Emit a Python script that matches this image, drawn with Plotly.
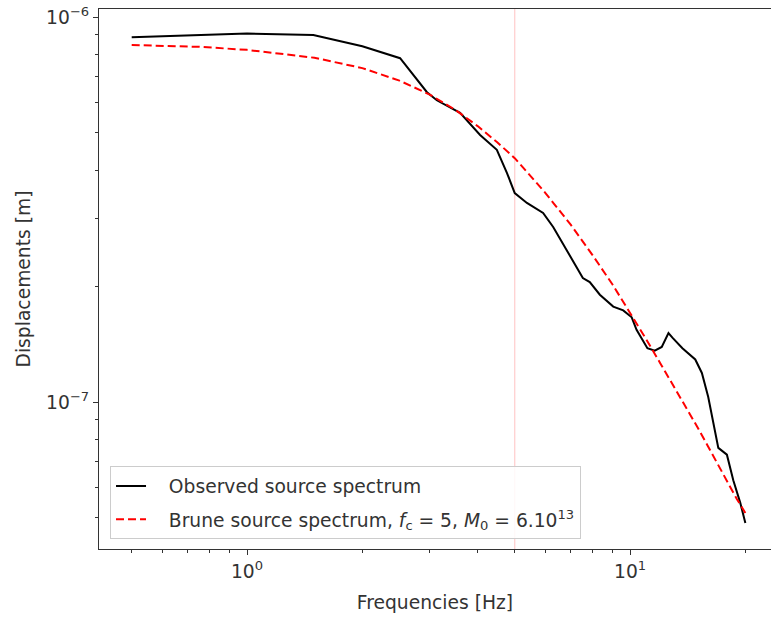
import plotly.graph_objects as go

# Observed source spectrum
obs_freq = [0.5, 1.0, 1.49, 2.0, 2.51, 2.95, 3.13, 3.6, 4.06, 4.49, 4.77, 5.0, 5.38, 5.93,
            6.3, 6.84, 7.53, 7.85, 8.34, 9.04, 9.6, 10.1, 10.4, 11.1, 11.6, 12.1, 12.6,
            12.9, 13.7, 14.8, 15.4, 16.0, 16.5, 17.0, 17.9, 18.6, 19.4, 20.0]
obs_disp = [8.87e-7, 9.06e-7, 8.98e-7, 8.4e-7, 7.82e-7, 6.38e-7, 6.08e-7, 5.64e-7, 4.94e-7,
            4.52e-7, 3.94e-7, 3.49e-7, 3.29e-7, 3.10e-7, 2.85e-7, 2.48e-7, 2.10e-7, 2.05e-7,
            1.90e-7, 1.77e-7, 1.73e-7, 1.66e-7, 1.54e-7, 1.38e-7, 1.36e-7, 1.39e-7, 1.51e-7,
            1.47e-7, 1.38e-7, 1.29e-7, 1.19e-7, 1.03e-7, 8.8e-8, 7.6e-8, 7.3e-8, 6.26e-8,
            5.47e-8, 4.85e-8]

# Brune source spectrum
brune_freq = [0.5, 0.75, 1.0, 1.5, 2.0, 2.5, 3.0, 3.5, 4.0, 4.5, 5.0, 6.0, 7.0, 8.0, 9.0,
              10.0, 11.0, 12.0, 13.0, 14.0, 15.0, 16.0, 17.0, 18.0, 19.0, 20.0]
brune_disp = [8.46e-7, 8.37e-7, 8.22e-7, 7.84e-7, 7.37e-7, 6.84e-7, 6.29e-7, 5.74e-7, 5.21e-7,
              4.73e-7, 4.30e-7, 3.50e-7, 2.89e-7, 2.40e-7, 2.02e-7, 1.71e-7, 1.46e-7, 1.26e-7,
              1.10e-7, 9.7e-8, 8.6e-8, 7.65e-8, 6.85e-8, 6.15e-8, 5.6e-8, 5.15e-8]

corner_freq = 5

x_major = [1, 10]
x_major_text = ["10<sup>0</sup>", "10<sup>1</sup>"]
x_minor = [0.5, 0.6, 0.7, 0.8, 0.9, 2, 3, 4, 5, 6, 7, 8, 9, 20]
y_major = [1e-7, 1e-6]
y_major_text = ["10<sup>\u22127</sup>", "10<sup>\u22126</sup>"]
y_minor = [5e-8, 6e-8, 7e-8, 8e-8, 9e-8, 2e-7, 3e-7, 4e-7, 5e-7, 6e-7, 7e-7, 8e-7, 9e-7]

fig = go.Figure()
fig.add_trace(go.Scatter(x=obs_freq, y=obs_disp, mode="lines",
                         line=dict(color="black", width=2),
                         name="\u00a0\u00a0\u00a0Observed source spectrum", legendgroup="a"))
fig.add_trace(go.Scatter(x=brune_freq, y=brune_disp, mode="lines",
                         line=dict(color="red", width=2, dash="8px,4px"),
                         name="\u00a0\u00a0\u00a0Brune source spectrum, <i>f</i><sub>c</sub> = 5, <i>M</i><sub>0</sub> = 6.10<sup>13</sup>",
                         legendgroup="b"))

fig.add_shape(type="line", xref="x", yref="paper", x0=corner_freq, x1=corner_freq, y0=0, y1=1,
              line=dict(color="rgba(255,0,0,0.2)", width=1.2), layer="below")

axis_font = dict(family="DejaVu Sans", size=18.7, color="#333")

fig.update_layout(
    width=771, height=617,
    margin=dict(l=99, r=0, t=9, b=68),
    paper_bgcolor="white", plot_bgcolor="white",
    font=dict(family="DejaVu Sans", size=18.7, color="#333"),
    showlegend=True,
    legend=dict(x=0.0164, y=0.018, xanchor="left", yanchor="bottom",
                bgcolor="rgba(255,255,255,0.85)", bordercolor="#ccc", borderwidth=1,
                font=dict(family="DejaVu Sans", size=18.7, color="#333"),
                tracegroupgap=6, traceorder="grouped"),
    xaxis=dict(type="log", range=[-0.3864, 1.368],
               title=dict(text="Frequencies [Hz]", font=axis_font, standoff=15),
               tickmode="array", tickvals=x_major, ticktext=x_major_text,
               ticks="outside", ticklen=5, tickwidth=1, tickcolor="#333",
               showline=True, linecolor="#333", linewidth=1.2, mirror=True,
               showgrid=False, zeroline=False, tickfont=axis_font,
               minor=dict(tickmode="array", tickvals=x_minor, ticks="outside",
                          ticklen=3, tickwidth=1, tickcolor="#333", showgrid=False)),
    yaxis=dict(type="log", range=[-7.3818, -5.979],
               title=dict(text="Displacements [m]", font=axis_font, standoff=10),
               tickmode="array", tickvals=y_major, ticktext=y_major_text,
               ticks="outside", ticklen=5, tickwidth=1, tickcolor="#333",
               showline=True, linecolor="#333", linewidth=1.2, mirror=False,
               showgrid=False, zeroline=False, tickfont=axis_font,
               minor=dict(tickmode="array", tickvals=y_minor, ticks="outside",
                          ticklen=3, tickwidth=1, tickcolor="#333", showgrid=False)),
)

fig.write_html("out.html", config={"displayModeBar": False},
               post_script="document.body.style.margin='0';document.body.style.overflow='hidden';")
